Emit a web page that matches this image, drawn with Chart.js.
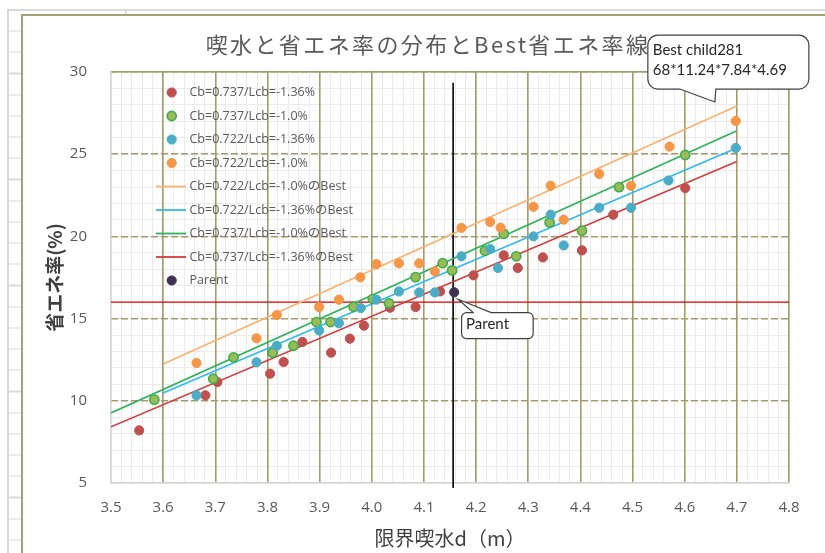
<!DOCTYPE html>
<html lang="ja">
<head>
<meta charset="utf-8">
<title>喫水と省エネ率の分布</title>
<script src="https://cdn.jsdelivr.net/npm/chart.js@4.4.1/dist/chart.umd.min.js"></script>
<style>
  html, body { margin: 0; padding: 0; background: #fff; overflow: hidden; }
  #wrap { position: relative; width: 825px; height: 553px; overflow: hidden; }
  /* spreadsheet cells around the chart object */
  .rows {
    position: absolute; left: 7px; top: 9px; width: 14px; height: 560px;
    border-left: 2px solid #d9d9d9;
    background: repeating-linear-gradient(to bottom,
      transparent 0, transparent 20px, #d9d9d9 20px, #d9d9d9 21.2px);
    background-position: 0 1.5px;
  }
  .cols {
    position: absolute; left: 7px; top: 9px; width: 830px; height: 5px;
    border-top: 2px solid #d9d9d9;
  }
  .cols i { position: absolute; left: 118px; top: 0; width: 2px; height: 5px; background: #d9d9d9; }
  .frame {
    position: absolute; left: 21px; top: 14px; width: 840px; height: 560px;
    border: 2px solid #a89f74; background: #fff;
  }
  canvas { position: absolute; left: 0; top: 0; }
</style>
</head>
<body>
<div id="wrap">
  <div class="rows"></div>
  <div class="cols"><i></i></div>
  <div class="frame"></div>
  <canvas id="chart" width="825" height="553"></canvas>
</div>
<script>
// 限界喫水 d [m] と 省エネ率 [%]

// Cb=0.737 / Lcb=-1.36%
const cb737L136X = [3.554, 3.681, 3.704, 3.805, 3.831, 3.867, 3.922, 3.958, 3.985, 4.035,
                    4.084, 4.131, 4.195, 4.253, 4.280, 4.328, 4.403, 4.463, 4.601];
const cb737L136Y = [8.20, 10.33, 11.14, 11.65, 12.36, 13.58, 12.93, 13.78, 14.57, 15.66,
                    15.70, 16.65, 17.63, 18.85, 18.08, 18.72, 19.15, 21.32, 22.94];

// Cb=0.737 / Lcb=-1.0%
const cb737L10X = [3.583, 3.696, 3.735, 3.810, 3.850, 3.894, 3.921, 3.965, 4.002, 4.033,
                   4.084, 4.136, 4.154, 4.217, 4.253, 4.277, 4.341, 4.403, 4.474, 4.601];
const cb737L10Y = [10.07, 11.34, 12.64, 12.93, 13.35, 14.79, 14.79, 15.72, 16.19, 15.93,
                   17.52, 18.37, 17.93, 19.13, 20.15, 18.79, 20.85, 20.35, 23.00, 24.95];

// Cb=0.722 / Lcb=-1.36%
const cb722L136X = [3.664, 3.779, 3.818, 3.899, 3.937, 3.979, 4.009, 4.052, 4.091, 4.121,
                    4.172, 4.227, 4.242, 4.310, 4.343, 4.368, 4.436, 4.497, 4.569, 4.698];
const cb722L136Y = [10.33, 12.34, 13.35, 14.28, 14.72, 15.64, 16.15, 16.65, 16.59, 16.59,
                    18.79, 19.23, 18.08, 20.00, 21.32, 19.45, 21.74, 21.74, 23.40, 25.38];

// Cb=0.722 / Lcb=-1.0%
const cb722L10X = [3.664, 3.779, 3.818, 3.899, 3.937, 3.978, 4.009, 4.052, 4.091, 4.121,
                   4.172, 4.227, 4.247, 4.310, 4.343, 4.368, 4.436, 4.497, 4.571, 4.698];
const cb722L10Y = [12.30, 13.80, 15.22, 15.70, 16.15, 17.51, 18.32, 18.36, 18.36, 17.87,
                   20.52, 20.88, 20.53, 21.80, 23.08, 21.02, 23.80, 23.08, 25.46, 27.02];

// Best lines (start / end)
const best722L10X  = [3.6, 4.7];  const best722L10Y  = [12.24, 27.93];
const best722L136X = [3.6, 4.7];  const best722L136Y = [10.47, 25.38];
const best737L10X  = [3.5, 4.7];  const best737L10Y  = [9.26, 26.43];
const best737L136X = [3.5, 4.7];  const best737L136Y = [8.42, 24.56];

// Parent ship
const parentX = [4.158];
const parentY = [16.60];
const parentDraftX = [4.156, 4.156];
const parentDraftY = [4.7, 29.35];
const parentSavingX = [3.5, 4.8];
const parentSavingY = [16, 16];

// axis ticks
const xTickValues = [3.5, 3.6, 3.7, 3.8, 3.9, 4.0, 4.1, 4.2, 4.3, 4.4, 4.5, 4.6, 4.7, 4.8];
const yTickValues = [5, 10, 15, 20, 25, 30];

const OLIVE = '#a49b6d';
const MINOR = '#ebebeb';
const AXIS  = '#d4d4d4';
const TEXT  = '#595959';

const pts = (xs, ys) => xs.map((x, i) => ({ x, y: ys[i] }));

function scatterSet(key, label, xs, ys, fill, stroke, bw, order, rank) {
  return {
    key, label, data: pts(xs, ys), showLine: false, order, legendRank: rank,
    pointRadius: 4.6, pointHoverRadius: 4.6,
    pointBackgroundColor: fill, pointBorderColor: stroke, pointBorderWidth: bw,
  };
}

function lineSet(key, label, xs, ys, color, width, order, rank) {
  return {
    key, label, data: pts(xs, ys), showLine: true, order, legendRank: rank,
    borderColor: color, borderWidth: width, pointRadius: 0, pointHoverRadius: 0,
  };
}

const datasets = [
  scatterSet('parent', 'Parent', parentX, parentY, '#3f3151', '#3f3151', 1, 0, 9),
  scatterSet('cb722L10', 'Cb=0.722/Lcb=-1.0%', cb722L10X, cb722L10Y, '#f79646', '#f79646', 1, 1, 4),
  scatterSet('cb722L136', 'Cb=0.722/Lcb=-1.36%', cb722L136X, cb722L136Y, '#4bacc6', '#4bacc6', 1, 2, 3),
  scatterSet('cb737L10', 'Cb=0.737/Lcb=-1.0%', cb737L10X, cb737L10Y, '#9bbb59', '#3cae4a', 1.6, 3, 2),
  scatterSet('cb737L136', 'Cb=0.737/Lcb=-1.36%', cb737L136X, cb737L136Y, '#c0504d', '#c0504d', 1, 4, 1),
  lineSet('best722L10', 'Cb=0.722/Lcb=-1.0%のBest', best722L10X, best722L10Y, '#fbb06e', 1.6, 5, 5),
  lineSet('best722L136', 'Cb=0.722/Lcb=-1.36%のBest', best722L136X, best722L136Y, '#2fbaf0', 1.6, 6, 6),
  lineSet('best737L10', 'Cb=0.737/Lcb=-1.0%のBest', best737L10X, best737L10Y, '#2db35a', 1.6, 7, 7),
  lineSet('best737L136', 'Cb=0.737/Lcb=-1.36%のBest', best737L136X, best737L136Y, '#d63a3a', 1.6, 8, 8),
  lineSet('parentSaving', '', parentSavingX, parentSavingY, '#e00000', 1.4, 9, 0),
  Object.assign(lineSet('parentDraft', '', parentDraftX, parentDraftY, '#000000', 1.6, 10, 0), { clip: false }),
];

// callout boxes: offsets are from the anchor point, box/wedge from the tip
const callouts = [
  { anchor: ['best722L10', 1], tip: [-22, -4], box: [-67, -67, 94, -13], radius: 10,
    wedge: { edge: 'bottom', a: -35, b: 1 },
    lines: ['Best child281', '68*11.24*7.84*4.69'], textX: 5, textY: [15, 35.5] },
  { anchor: ['parent', 0], tip: [4, 7], box: [3.4, 13.3, 75, 39.3], radius: 5,
    wedge: { edge: 'top', a: 15, b: 33 },
    lines: ['Parent'], textX: 4.5, textY: [12] },
];

function drawTitle(ctx) {
  ctx.save();
  ctx.font = '22px "Noto Sans CJK JP"';
  ctx.fillStyle = TEXT;
  ctx.textAlign = 'center';
  ctx.textBaseline = 'middle';
  if ('letterSpacing' in ctx) ctx.letterSpacing = '2.4px';
  ctx.fillText('喫水と省エネ率の分布とBest省エネ率線', 428, 45);
  ctx.restore();
}

function drawLegend(chart) {
  const { ctx, chartArea: area } = chart;
  const items = chart.data.datasets
    .filter(d => d.legendRank > 0)
    .sort((a, b) => a.legendRank - b.legendRank);
  ctx.save();
  ctx.font = '12.5px "Open Sans", "Noto Sans CJK JP"';
  ctx.textBaseline = 'middle';
  items.forEach((d, i) => {
    const y = area.top + 20.5 + i * 23.5;
    if (d.showLine) {
      ctx.strokeStyle = d.borderColor;
      ctx.lineWidth = 1.8;
      ctx.beginPath();
      ctx.moveTo(area.left + 45, y);
      ctx.lineTo(area.left + 75, y);
      ctx.stroke();
    } else {
      ctx.fillStyle = d.pointBackgroundColor;
      ctx.strokeStyle = d.pointBorderColor;
      ctx.lineWidth = d.pointBorderWidth;
      ctx.beginPath();
      ctx.arc(area.left + 60.7, y, d.pointRadius, 0, Math.PI * 2);
      ctx.fill();
      ctx.stroke();
    }
    ctx.fillStyle = TEXT;
    ctx.fillText(d.label, area.left + 78.5, y);
  });
  ctx.restore();
}

function drawCallouts(chart) {
  const { ctx } = chart;
  callouts.forEach(c => {
    const idx = chart.data.datasets.findIndex(d => d.key === c.anchor[0]);
    const el = chart.getDatasetMeta(idx).data[c.anchor[1]];
    const tx = el.x + c.tip[0], ty = el.y + c.tip[1];
    const x0 = tx + c.box[0], y0 = ty + c.box[1], x1 = tx + c.box[2], y1 = ty + c.box[3];
    const r = c.radius, w = c.wedge;

    ctx.save();
    ctx.beginPath();
    ctx.moveTo(x0 + r, y0);
    if (w.edge === 'top') {
      ctx.lineTo(tx + w.a, y0);
      ctx.lineTo(tx, ty);
      ctx.lineTo(tx + w.b, y0);
    }
    ctx.lineTo(x1 - r, y0);
    ctx.arcTo(x1, y0, x1, y0 + r, r);
    ctx.lineTo(x1, y1 - r);
    ctx.arcTo(x1, y1, x1 - r, y1, r);
    if (w.edge === 'bottom') {
      ctx.lineTo(tx + w.b, y1);
      ctx.lineTo(tx, ty);
      ctx.lineTo(tx + w.a, y1);
    }
    ctx.lineTo(x0 + r, y1);
    ctx.arcTo(x0, y1, x0, y1 - r, r);
    ctx.lineTo(x0, y0 + r);
    ctx.arcTo(x0, y0, x0 + r, y0, r);
    ctx.closePath();
    ctx.fillStyle = '#ffffff';
    ctx.fill();
    ctx.strokeStyle = '#404040';
    ctx.lineWidth = 1.2;
    ctx.stroke();

    ctx.fillStyle = '#262626';
    ctx.font = '15px Lato';
    ctx.textBaseline = 'middle';
    c.lines.forEach((t, i) => ctx.fillText(t, x0 + c.textX, y0 + c.textY[i]));
    ctx.restore();
  });
}

const overlay = {
  id: 'overlay',
  afterDraw(chart) {
    drawTitle(chart.ctx);
    drawLegend(chart);
    drawCallouts(chart);
  }
};

new Chart(document.getElementById('chart'), {
  type: 'scatter',
  data: { datasets },
  plugins: [overlay],
  options: {
    responsive: false,
    animation: false,
    events: [],
    layout: { padding: { top: 72, right: 36, left: 0, bottom: 0 } },
    plugins: {
      legend: { display: false },
      title: { display: false },
      tooltip: { enabled: false },
    },
    scales: {
      x: {
        type: 'linear', position: 'bottom', weight: 1,
        min: 3.5, max: 4.8,
        afterBuildTicks: s => { s.ticks = xTickValues.map(v => ({ value: v })); },
        afterFit: s => { s.height = 70; },
        ticks: {
          autoSkip: false, maxRotation: 0, padding: 16, color: TEXT,
          font: { family: '"Open Sans"', size: 15 },
          callback: v => v.toFixed(1),
        },
        grid: {
          z: -1, drawTicks: false, lineWidth: 1.6,
          color: c => (c.tick && c.tick.value === 3.5 ? 'rgba(0,0,0,0)' : OLIVE),
        },
        border: { display: false },
        title: {
          display: true, text: '限界喫水d（m）', color: '#404040',
          font: { family: '"Noto Sans CJK JP"', size: 20 },
          padding: { top: 0, bottom: 3 },
        },
      },
      xMinor: {
        type: 'linear', position: 'bottom', weight: 0,
        min: 3.5, max: 4.8,
        afterBuildTicks: s => { s.ticks = Array.from({ length: 66 }, (_, i) => ({ value: 3.5 + i * 0.02 })); },
        afterFit: s => { s.height = 0; },
        ticks: { display: false },
        grid: { z: -2, drawTicks: false, color: MINOR, lineWidth: 1 },
        border: { display: true, color: AXIS, width: 1.5 },
      },
      xTop: {
        type: 'linear', position: 'top',
        min: 3.5, max: 4.8,
        afterFit: s => { s.height = 0; },
        ticks: { display: false },
        grid: { display: false, drawTicks: false },
        border: { display: true, color: OLIVE, width: 1.6 },
      },
      y: {
        type: 'linear', position: 'left', weight: 1,
        min: 5, max: 30,
        afterBuildTicks: s => { s.ticks = yTickValues.map(v => ({ value: v })); },
        afterFit: s => { s.width = 111; },
        ticks: {
          padding: 24, color: TEXT,
          font: { family: '"Open Sans"', size: 15 },
        },
        grid: {
          z: -1, drawTicks: false, lineWidth: 1.6,
          color: c => (c.tick && c.tick.value === 5 ? 'rgba(0,0,0,0)' : OLIVE),
        },
        border: { display: false, dash: [7, 3] },
        title: {
          display: true, text: '省エネ率(%)', color: '#404040',
          font: { family: '"Noto Sans CJK JP"', size: 19, weight: 'bold' },
          padding: { top: 43, bottom: 0 },
        },
      },
      yMinor: {
        type: 'linear', position: 'left', weight: 0,
        min: 5, max: 30,
        afterBuildTicks: s => { s.ticks = Array.from({ length: 26 }, (_, i) => ({ value: 5 + i })); },
        afterFit: s => { s.width = 0; },
        ticks: { display: false },
        grid: { z: -2, drawTicks: false, color: MINOR, lineWidth: 1 },
        border: { display: true, color: AXIS, width: 1.5 },
      },
    },
  },
});
</script>
</body>
</html>
